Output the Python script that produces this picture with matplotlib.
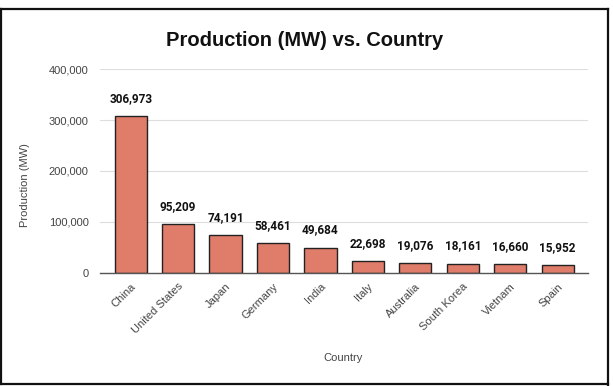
import matplotlib
matplotlib.use('Agg')
import matplotlib.pyplot as plt
from matplotlib.lines import Line2D

countries = ['China', 'United States', 'Japan', 'Germany', 'India', 'Italy',
             'Australia', 'South Korea', 'Vietnam', 'Spain']
production = [306973, 95209, 74191, 58461, 49684, 22698, 19076, 18161, 16660, 15952]
yticks = [0, 100000, 200000, 300000, 400000]

bar_color = '#E07C6A'
text_color = '#444444'

fig = plt.figure(figsize=(6.13, 3.86), dpi=100)
ax = fig.add_axes([0.163, 0.293, 0.797, 0.528])

x = list(range(len(countries)))
bars = ax.bar(x, production, width=0.68, color=bar_color, edgecolor='#222222',
              linewidth=1.0, zorder=3)

# value labels above the bars
for xi, v in zip(x, production):
    ax.annotate(f"{v:,}", (xi, v), xytext=(0, 8), textcoords='offset points',
                ha='center', va='bottom', fontsize=8.5, fontweight='bold',
                family='Roboto', color='#111111')

ax.set_xlim(-0.65, len(countries) - 0.35)
ax.set_ylim(0, 400000)
ax.set_yticks(yticks)
ax.set_yticklabels([f"{t:,}" for t in yticks], family='Liberation Sans',
                   fontsize=8, color=text_color)
ax.set_xticks(x)
ax.set_xticklabels(countries, rotation=45, ha='right', rotation_mode='anchor',
                   family='Liberation Sans', fontsize=8, color=text_color)
ax.tick_params(axis='both', length=0, pad=6)
ax.tick_params(axis='y', pad=8)

ax.grid(axis='y', color='#dddddd', linewidth=0.8, zorder=0)
for s in ['top', 'right', 'left']:
    ax.spines[s].set_visible(False)
ax.spines['bottom'].set_color('#555555')
ax.spines['bottom'].set_linewidth(1.0)
ax.spines['bottom'].set_zorder(4)

fig.text(0.497, 0.896, 'Production (MW) vs. Country', ha='center', va='center',
         fontsize=14.5, fontweight='bold', family='Liberation Sans', color='#111111')
fig.text(0.041, 0.52, 'Production (MW)', rotation=90, ha='center', va='center',
         fontsize=8, family='Liberation Sans', color=text_color)
fig.text(0.56, 0.073, 'Country', ha='center', va='center',
         fontsize=8, family='Liberation Sans', color=text_color)

# outer frame of the screenshot
frame_kw = dict(color='#111111', linewidth=1.6, transform=fig.transFigure)
fig.add_artist(Line2D([0.0, 0.992], [0.977, 0.977], **frame_kw))
fig.add_artist(Line2D([0.992, 0.992], [0.977, 0.003], **frame_kw))
fig.add_artist(Line2D([0.0, 0.992], [0.004, 0.004], **frame_kw))
fig.add_artist(Line2D([0.002, 0.002], [0.977, 0.004], **frame_kw))

fig.savefig('out.png', dpi=100)
